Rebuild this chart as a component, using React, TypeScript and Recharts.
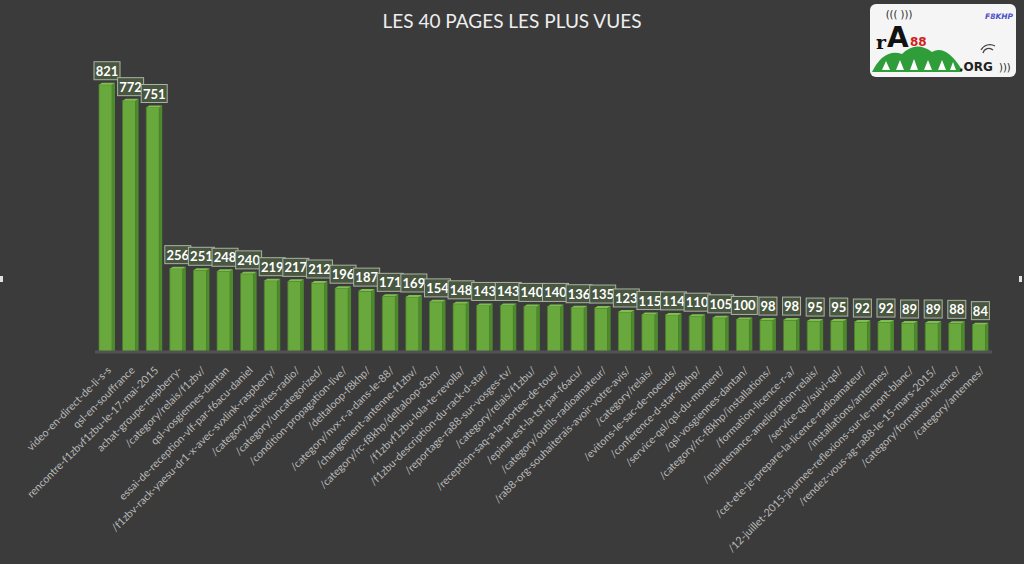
import React from "react";
import { BarChart, Bar, XAxis, YAxis, LabelList } from "recharts";

const pages: string[] = [
  "video-en-direct-de-li-s-s",
  "qsl-en-souffrance",
  "rencontre-f1zbvf1zbu-le-17-mai-2015",
  "achat-groupe-raspberry-",
  "/category/relais/f1zbv/",
  "qsl-vosgiennes-dantan",
  "essai-de-reception-vlf-par-f6acu-daniel",
  "/f1zbv-rack-yaesu-dr1-x-avec-svxlink-raspberry/",
  "/category/activites-radio/",
  "/category/uncategorized/",
  "/condition-propagation-live/",
  "/deltaloop-f8khp/",
  "/category/nvx-r-a-dans-le-88/",
  "/changement-antenne-f1zbv/",
  "/category/rc-f8khp/deltaloop-83m/",
  "/f1zbvf1zbu-lola-te-revolla/",
  "/f1zbu-description-du-rack-d-star/",
  "/reportage-ra88-sur-vosges-tv/",
  "/category/relais/f1zbu/",
  "/reception-saq-a-la-portee-de-tous/",
  "/epinal-est-la-tsf-par-f6acu/",
  "/category/outils-radioamateur/",
  "/ra88-org-souhaiterais-avoir-votre-avis/",
  "/category/relais/",
  "/evitons-le-sac-de-noeuds/",
  "/conference-d-star-f8khp/",
  "/service-qsl/qsl-du-moment/",
  "/qsl-vosgiennes-dantan/",
  "/category/rc-f8khp/installations/",
  "/formation-licence-r-a/",
  "/maintenance-amelioration-relais/",
  "/service-qsl/suivi-qsl/",
  "/cet-ete-je-prepare-la-licence-radioamateur/",
  "/installations/antennes/",
  "/12-juillet-2015-journee-reflexions-sur-le-mont-blanc/",
  "/rendez-vous-ag-ra88-le-15-mars-2015/",
  "/category/formation-licence/",
  "/category/antennes/",
];

const views: number[] = [
  821, 772, 751, 256, 251, 248, 240, 219, 217, 212, 196, 187, 171, 169, 154,
  148, 143, 143, 140, 140, 136, 135, 123, 115, 114, 110, 105, 100, 98, 98, 95,
  95, 92, 92, 89, 89, 88, 84,
];

const title = "LES 40 PAGES LES PLUS VUES";

const data = pages.map((p, i) => ({ page: p, views: views[i] }));

const Bar3D = (props: any) => {
  const { x, y, width, height } = props;
  if (height <= 0) return null;
  const side = 3;
  const fw = width - side;
  return (
    <g>
      <rect x={x} y={y} width={fw} height={height} fill="#69a83d" stroke="#4b7f2a" strokeWidth={0.8} />
      <polygon
        points={`${x + fw},${y} ${x + width},${y - 2} ${x + width},${y + height} ${x + fw},${y + height}`}
        fill="#4c8a2c"
      />
      <polygon
        points={`${x},${y} ${x + side},${y - 2} ${x + width},${y - 2} ${x + fw},${y}`}
        fill="#7fbf50"
      />
    </g>
  );
};

const ValueLabel = (props: any) => {
  const { x, y, width, value } = props;
  const cx = x + width / 2;
  const w = String(value).length * 8 + 2;
  const h = 18;
  const top = y - h - 5;
  return (
    <g>
      <rect x={cx - w / 2} y={top} width={w} height={h} fill="#495740" stroke="#aab3a4" strokeWidth={1} />
      <text
        x={cx}
        y={top + 14}
        textAnchor="middle"
        fill="#ffffff"
        fontSize={13}
        fontWeight="bold"
        fontFamily="Lato, 'Open Sans', sans-serif"
      >
        {value}
      </text>
    </g>
  );
};

const Tick = (props: any) => {
  const { x, y, payload } = props;
  const ax = x + 5;
  const ay = y + 11;
  return (
    <text
      x={ax}
      y={ay}
      transform={`rotate(-45 ${ax} ${ay})`}
      textAnchor="end"
      fill="#b8b8b8"
      fontSize={10.7}
      fontFamily="Lato, 'Open Sans', sans-serif"
    >
      {payload.value}
    </text>
  );
};

const Logo = () => (
  <svg width={146} height={73} style={{ position: "absolute", left: 870, top: 4 }}>
    <rect x={0} y={0} width={146} height={73} rx={6} fill="#f5f5f5" />
    <text x={143} y={15} textAnchor="end" fontSize={7.5} fontStyle="italic" fontWeight="bold" fill="#4a50c8" fontFamily="'DejaVu Sans', sans-serif">F8KHP</text>
    <text x={29} y={14} textAnchor="middle" fontSize={10} fill="#222" fontFamily="'DejaVu Sans', sans-serif">((( )))</text>
    <path d="M2,68 Q14,44 32,50 Q46,36 62,48 Q76,40 92,66 L92,68 Z" fill="#2f9e3a" />
    <path d="M12,66 l4,-9 l4,9 Z M26,66 l4,-10 l4,10 Z M40,66 l4,-11 l4,11 Z M54,66 l4,-10 l4,10 Z M68,66 l4,-10 l4,10 Z M80,66 l3,-8 l3,8 Z" fill="#ffffff" />
    <text x={6} y={45} fontSize={19} fontWeight="bold" fill="#111" fontFamily="'DejaVu Serif', serif">r</text>
    <text x={17} y={43} fontSize={28} fontWeight="bold" fill="#111" fontFamily="'DejaVu Sans', sans-serif">A</text>
    <text x={40} y={42} fontSize={12} fontWeight="bold" fill="#d21f1f" fontFamily="'DejaVu Sans', sans-serif">88</text>
    <text x={89} y={67} fontSize={12} fontWeight="bold" fill="#222" fontFamily="'DejaVu Sans', sans-serif">.ORG</text>
    <text x={129} y={67} fontSize={10} fill="#222" fontFamily="'DejaVu Sans', sans-serif">)))</text>
    <path d="M111,46 A10,10 0 0 1 125,42 M113,49 A6,6 0 0 1 123,46" stroke="#444" strokeWidth={1.2} fill="none" />
  </svg>
);

export default function App() {
  return (
    <div
      style={{
        position: "absolute",
        left: 0,
        top: 0,
        width: 1024,
        height: 564,
        background: "#3b3b3b",
        overflow: "hidden",
      }}
    >
      <div
        style={{
          position: "absolute",
          top: 9,
          left: 0,
          width: 1024,
          textAlign: "center",
          color: "#eeeeee",
          fontSize: 19,
          fontFamily: "Lato, 'Open Sans', sans-serif",
        }}
      >
        {title}
      </div>
      <Logo />
      <div style={{ position: "absolute", left: 0, top: 276, width: 3, height: 6, background: "#e0e0e0" }} />
      <div style={{ position: "absolute", left: 1019, top: 276, width: 3, height: 6, background: "#e0e0e0" }} />
      <div style={{ position: "absolute", left: 0, top: 0 }}>
        <BarChart
          width={1024}
          height={564}
          data={data}
          margin={{ top: 59, right: 32, bottom: 12, left: 95 }}
          barSize={16}
        >
          <XAxis
            dataKey="page"
            interval={0}
            height={200}
            tickLine={false}
            axisLine={{ stroke: "#525252", strokeWidth: 3 }}
            tick={<Tick />}
          />
          <YAxis hide domain={[0, 900]} width={0} />
          <Bar dataKey="views" shape={<Bar3D />} isAnimationActive={false}>
            <LabelList dataKey="views" content={<ValueLabel />} />
          </Bar>
        </BarChart>
      </div>
    </div>
  );
}
